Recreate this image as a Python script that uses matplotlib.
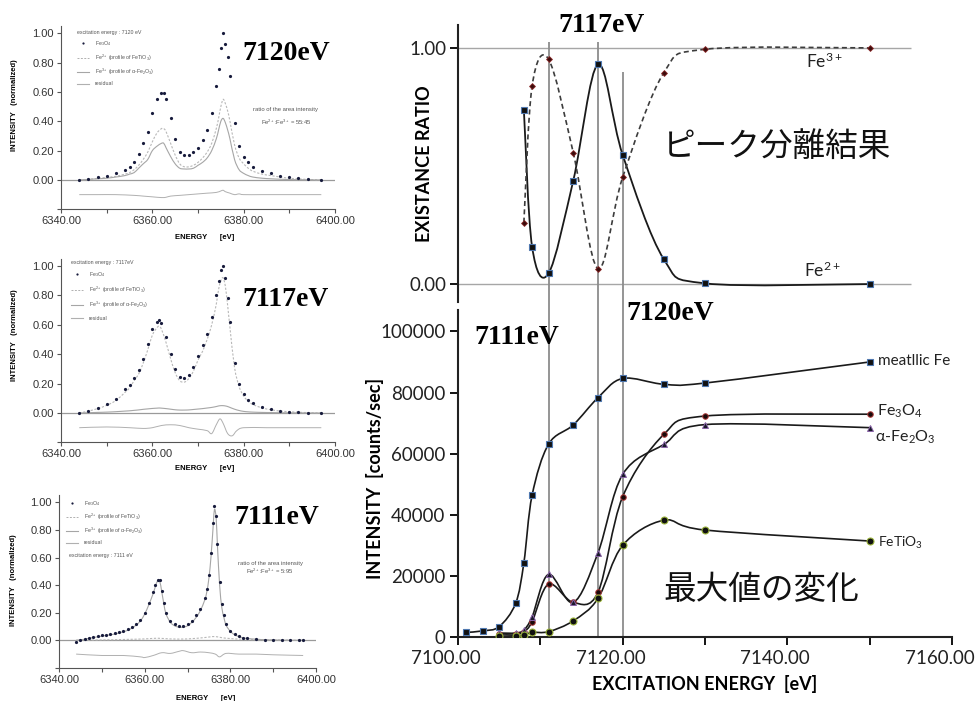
import numpy as np
import matplotlib
matplotlib.use("Agg")
import matplotlib.pyplot as plt
from matplotlib.path import Path
from matplotlib.patches import PathPatch
from matplotlib.lines import Line2D
from matplotlib.transforms import ScaledTranslation

# ---- right top: peak separation result (existence ratio) ----
E_RATIO = [7108, 7109, 7111, 7114, 7117, 7120, 7125, 7130, 7150]
FE2_RATIO = [0.737, 0.158, 0.045, 0.438, 0.930, 0.547, 0.105, 0.003, 0.0]
FE3_RATIO = [0.260, 0.839, 0.952, 0.556, 0.065, 0.452, 0.895, 0.994, 1.0]

# ---- right bottom: maximum intensity vs excitation energy ----
E_METAL = [7101, 7103, 7105, 7107, 7108, 7109, 7111, 7114, 7117, 7120, 7125, 7130, 7150]
I_METAL = [1500, 2000, 3400, 11000, 24300, 46400, 63100, 69400, 78300, 84600, 82700, 83100, 90000]
E_OXIDE = [7105, 7107, 7108, 7109, 7111, 7114, 7117, 7120, 7125, 7130, 7150]
I_FE3O4 = [1000, 1000, 1700, 5000, 17300, 11300, 14600, 45900, 66300, 72300, 72900]
I_FE2O3 = [1300, 1300, 2300, 6600, 20500, 11300, 27500, 53200, 63000, 69500, 68500]
I_FETIO3 = [300, 400, 650, 1500, 1750, 5300, 12600, 30000, 38200, 35000, 31400]

MARK_E = [7111, 7117, 7120]
MARK_TOP = [1.025, 1.025, 0.898]

# ---- left: Fe3O4 spectra at 7120 eV ----
E_7120 = [6344, 6346, 6348, 6350, 6352, 6354, 6355, 6356, 6357, 6358, 6359, 6360, 6361, 6362, 6362.5,
          6363, 6364, 6365, 6366, 6367, 6368, 6369, 6370, 6371, 6372, 6373, 6374, 6374.5, 6375, 6375.5,
          6376, 6376.5, 6377, 6378, 6379, 6380, 6381, 6382, 6384, 6386, 6388, 6390, 6392, 6394, 6397]
D_7120 = [0.00, 0.01, 0.02, 0.03, 0.045, 0.07, 0.09, 0.12, 0.18, 0.25, 0.33, 0.46, 0.55, 0.59, 0.59,
          0.55, 0.42, 0.28, 0.19, 0.17, 0.17, 0.19, 0.22, 0.27, 0.34, 0.46, 0.64, 0.76, 0.90, 1.00,
          0.93, 0.84, 0.71, 0.39, 0.23, 0.16, 0.12, 0.09, 0.06, 0.045, 0.03, 0.02, 0.012, 0.006, 0.00]
FE2_7120 = [0.00, 0.005, 0.01, 0.018, 0.025, 0.04, 0.05, 0.07, 0.10, 0.14, 0.19, 0.26, 0.32, 0.35, 0.35,
            0.33, 0.25, 0.17, 0.11, 0.09, 0.09, 0.10, 0.12, 0.15, 0.19, 0.25, 0.35, 0.42, 0.50, 0.55,
            0.52, 0.47, 0.40, 0.24, 0.15, 0.11, 0.08, 0.06, 0.04, 0.03, 0.02, 0.012, 0.007, 0.004, 0.00]
FE3_7120 = [0.00, 0.004, 0.008, 0.012, 0.02, 0.03, 0.04, 0.05, 0.08, 0.11, 0.14, 0.20, 0.23, 0.25, 0.25,
            0.22, 0.16, 0.11, 0.08, 0.075, 0.075, 0.08, 0.10, 0.12, 0.15, 0.20, 0.28, 0.34, 0.40, 0.42,
            0.39, 0.34, 0.28, 0.14, 0.07, 0.045, 0.03, 0.02, 0.012, 0.008, 0.005, 0.003, 0.002, 0.001, 0.00]
RE_7120 = [6344, 6348, 6352, 6356, 6358, 6360, 6362, 6363, 6364, 6366, 6368, 6370, 6372, 6374, 6375,
           6375.5, 6376, 6377, 6378, 6379, 6380, 6384, 6388, 6392, 6397]
RES_7120 = [-0.10, -0.10, -0.10, -0.105, -0.11, -0.115, -0.12, -0.118, -0.11, -0.105, -0.10, -0.095, -0.09,
            -0.085, -0.075, -0.07, -0.08, -0.09, -0.10, -0.095, -0.10, -0.10, -0.10, -0.10, -0.10]

# ---- left: spectra at 7117 eV ----
E_7117 = [6344, 6346, 6348, 6350, 6352, 6354, 6355, 6356, 6357, 6358, 6359, 6360, 6361, 6361.5, 6362,
          6363, 6364, 6365, 6366, 6367, 6368, 6369, 6370, 6371, 6372, 6373, 6374, 6374.5, 6375, 6375.5,
          6376, 6376.5, 6377, 6378, 6379, 6380, 6381, 6382, 6384, 6386, 6388, 6390, 6392, 6394, 6397]
D_7117 = [0.00, 0.015, 0.035, 0.06, 0.095, 0.16, 0.19, 0.24, 0.29, 0.37, 0.47, 0.57, 0.62, 0.635, 0.61,
          0.52, 0.40, 0.30, 0.245, 0.235, 0.26, 0.31, 0.39, 0.46, 0.54, 0.65, 0.80, 0.90, 0.97, 1.00,
          0.92, 0.78, 0.62, 0.34, 0.20, 0.13, 0.09, 0.065, 0.04, 0.025, 0.015, 0.01, 0.006, 0.003, 0.00]
FE2_7117 = [0.00, 0.013, 0.03, 0.052, 0.085, 0.14, 0.17, 0.22, 0.265, 0.34, 0.43, 0.53, 0.58, 0.59, 0.57,
            0.48, 0.37, 0.275, 0.22, 0.21, 0.235, 0.285, 0.36, 0.42, 0.50, 0.60, 0.74, 0.84, 0.90, 0.92,
            0.86, 0.73, 0.58, 0.31, 0.18, 0.115, 0.08, 0.058, 0.035, 0.022, 0.013, 0.009, 0.005, 0.003, 0.00]
FE3_7117 = [0.0, 0.002, 0.004, 0.006, 0.009, 0.013, 0.015, 0.018, 0.021, 0.025, 0.028, 0.031, 0.033, 0.034, 0.033,
            0.03, 0.026, 0.022, 0.02, 0.02, 0.021, 0.024, 0.027, 0.03, 0.034, 0.038, 0.044, 0.048, 0.05, 0.05,
            0.048, 0.044, 0.038, 0.026, 0.017, 0.011, 0.008, 0.006, 0.004, 0.003, 0.002, 0.001, 0.001, 0.0, 0.0]
RE_7117 = [6344, 6350, 6355, 6358, 6360, 6362, 6364, 6366, 6368, 6370, 6372, 6373, 6374, 6374.8, 6375.5,
           6376.5, 6377.5, 6378.5, 6380, 6385, 6390, 6397]
RES_7117 = [-0.10, -0.095, -0.10, -0.105, -0.10, -0.085, -0.08, -0.085, -0.10, -0.11, -0.12, -0.14, -0.08,
            -0.04, -0.07, -0.14, -0.155, -0.12, -0.10, -0.10, -0.10, -0.10]

# ---- left: spectra at 7111 eV ----
E_7111 = [6344, 6345, 6346, 6347, 6348, 6349, 6350, 6351, 6352, 6353, 6354, 6355, 6356, 6357, 6358, 6359,
          6360, 6361, 6362, 6362.5, 6363, 6363.5, 6364, 6364.5, 6365, 6366, 6367, 6368, 6369, 6370, 6371,
          6372, 6373, 6374, 6374.5, 6375, 6375.5, 6376, 6376.3, 6376.7, 6377, 6377.5, 6378, 6378.5, 6379,
          6380, 6381, 6382, 6383, 6384, 6386, 6388, 6390, 6392, 6394, 6396, 6397]
D_7111 = [-0.01, 0.00, 0.01, 0.02, 0.025, 0.03, 0.035, 0.04, 0.045, 0.05, 0.06, 0.07, 0.08, 0.095, 0.12, 0.15,
          0.20, 0.27, 0.35, 0.40, 0.44, 0.44, 0.36, 0.27, 0.20, 0.14, 0.115, 0.105, 0.105, 0.115, 0.14,
          0.18, 0.23, 0.31, 0.37, 0.47, 0.63, 0.85, 0.97, 0.90, 0.70, 0.42, 0.26, 0.18, 0.12,
          0.07, 0.045, 0.03, 0.02, 0.015, 0.01, 0.005, 0.003, 0.002, 0.0, 0.0, 0.0]
FE3_7111 = [0.0, 0.003, 0.008, 0.014, 0.02, 0.025, 0.03, 0.035, 0.04, 0.045, 0.053, 0.062, 0.072, 0.088, 0.11, 0.14,
            0.19, 0.26, 0.34, 0.39, 0.43, 0.43, 0.35, 0.26, 0.19, 0.13, 0.105, 0.095, 0.095, 0.105, 0.13,
            0.165, 0.215, 0.29, 0.35, 0.45, 0.61, 0.83, 0.95, 0.88, 0.68, 0.40, 0.24, 0.165, 0.11,
            0.065, 0.04, 0.027, 0.018, 0.013, 0.008, 0.004, 0.002, 0.001, 0.0, 0.0, 0.0]
PE_7111 = [6344, 6350, 6355, 6360, 6363, 6366, 6370, 6374, 6376.3, 6379, 6384, 6390, 6397]
FE2_7111 = [0.0, 0.003, 0.006, 0.01, 0.015, 0.01, 0.01, 0.02, 0.027, 0.015, 0.006, 0.003, 0.0]
RE_7111 = [6344, 6350, 6355, 6359, 6360, 6362, 6364, 6366, 6368, 6369, 6371, 6373, 6375, 6376.5, 6377.5,
           6379, 6382, 6386, 6390, 6397]
RES_7111 = [-0.10, -0.11, -0.11, -0.12, -0.125, -0.11, -0.09, -0.095, -0.08, -0.075, -0.09, -0.085, -0.09,
            -0.10, -0.12, -0.095, -0.10, -0.10, -0.105, -0.11]

plt.rcParams['font.family'] = ['Liberation Sans', 'DejaVu Sans']
plt.rcParams['mathtext.fontset'] = 'custom'
plt.rcParams['mathtext.rm'] = 'Lato'
plt.rcParams['mathtext.it'] = 'Lato:italic'
plt.rcParams['mathtext.bf'] = 'Lato:bold'
plt.rcParams['mathtext.default'] = 'regular'

W, H = 979, 701
fig = plt.figure(figsize=(W / 100, H / 100), dpi=100)

DOT = '#171b3c'
LATO = ['Lato', 'DejaVu Sans']
CJK = ['Noto Sans CJK JP', 'DejaVu Sans']
SERIF = ['Liberation Serif', 'DejaVu Serif']


def px_axes(x0, y0, x1, y1):
    return fig.add_axes([x0 / W, 1 - y1 / H, (x1 - x0) / W, (y1 - y0) / H])


def ftext(x, y, s, **kw):
    kw.setdefault('ha', 'center')
    kw.setdefault('va', 'center')
    return fig.text(x / W, 1 - y / H, s, **kw)


def smooth(ax, x, y, **kw):
    # excel-like smoothed line through the points (cubic bezier segments)
    p = np.column_stack([x, y]).astype(float)
    n = len(p)
    verts = [p[0]]
    codes = [Path.MOVETO]
    for i in range(n - 1):
        a, b, c, d = p[max(i - 1, 0)], p[i], p[i + 1], p[min(i + 2, n - 1)]
        verts += [b + (c - a) / 6, c - (d - b) / 6, c]
        codes += [Path.CURVE4] * 3
    ax.add_patch(PathPatch(Path(verts, codes), fill=False, **kw))


def spectrum(box, E, D, fe2, fe3, res):
    ax = px_axes(*box)
    ax.axhline(0, color='#9a9a9a', lw=0.9, zorder=1)
    smooth(ax, fe2[0], fe2[1], color='#b8b8b8', lw=0.8, linestyle=(0, (2, 1.5)), zorder=2)
    smooth(ax, fe3[0], fe3[1], color='#a6a6a6', lw=0.8, zorder=2)
    smooth(ax, res[0], res[1], color='#b0b0b0', lw=0.7, zorder=2)
    ax.plot(E, D, ls='none', marker='o', ms=2.3, mew=0, color=DOT, zorder=3)
    ax.set_xlim(6340, 6400)
    ax.set_ylim(-0.2, 1.05)
    ax.set_xticks([6340, 6360, 6380, 6400])
    ax.set_xticks([6350, 6370, 6390], minor=True)
    ax.xaxis.set_major_formatter('{x:.2f}')
    yt = [-0.2, 0, 0.2, 0.4, 0.6, 0.8, 1.0]
    ax.set_yticks(yt)
    ax.set_yticklabels([''] + ['%.2f' % v for v in yt[1:]])
    for s in ['top', 'right']:
        ax.spines[s].set_visible(False)
    for s in ['left', 'bottom']:
        ax.spines[s].set_color('#555555')
        ax.spines[s].set_linewidth(0.8)
    ax.tick_params(which='both', direction='out', length=3, width=0.8, color='#555555',
                   labelsize=8, pad=2, labelcolor='#333333')
    return ax


def spec_legend(ax, xy, spacing, title=None):
    h = [Line2D([], [], ls='none', marker='o', ms=1.6, mew=0, color=DOT),
         Line2D([], [], color='#b0b0b0', lw=0.7, ls=(0, (2, 1.5))),
         Line2D([], [], color='#a6a6a6', lw=0.8),
         Line2D([], [], color='#b0b0b0', lw=0.8)]
    lab = ['Fe$_3$O$_4$', 'Fe$^{2+}$ (profile of FeTiO$_3$)',
           'Fe$^{3+}$ (profile of $\\alpha$-Fe$_2$O$_3$)', 'residual']
    leg = ax.legend(h, lab, title=title, loc='upper left',
                    bbox_to_anchor=(xy[0] / W, 1 - xy[1] / H), bbox_transform=fig.transFigure,
                    fontsize=3.8, title_fontsize=3.8, frameon=False, borderpad=0, borderaxespad=0,
                    handlelength=2.2, handletextpad=1.2, labelspacing=spacing)
    leg._legend_box.align = 'left'
    for t in leg.get_texts():
        t.set_color('#555555')
    leg.get_title().set_color('#555555')


# ---------------- left column ----------------
ax1 = spectrum((61, 26, 335, 209.3), E_7120, D_7120, (E_7120, FE2_7120), (E_7120, FE3_7120), (RE_7120, RES_7120))
spec_legend(ax1, (77, 30), 0.8, 'excitation energy : 7120 eV')
ftext(286, 53, '7120eV', family=SERIF, fontweight='bold', fontsize=20)
ftext(286, 110, 'ratio of the area intensity', fontsize=4.2, color='#555555')
ftext(286, 122, 'Fe$^{2+}$:Fe$^{3+}$ = 55:45', fontsize=4.2, color='#555555')
ftext(205, 238, 'ENERGY      [eV]', fontsize=5.5, fontweight='bold')
ftext(15, 105, 'INTENSITY   (normalized)', fontsize=5.5, fontweight='bold', rotation=90)

ax2 = spectrum((61, 258.7, 335, 442.4), E_7117, D_7117, (E_7117, FE2_7117), (E_7117, FE3_7117), (RE_7117, RES_7117))
spec_legend(ax2, (71, 260), 1.0, 'excitation energy : 7117eV')
ftext(286, 300, '7117eV', family=SERIF, fontweight='bold', fontsize=20)
ftext(205, 469, 'ENERGY      [eV]', fontsize=5.5, fontweight='bold')
ftext(15, 335, 'INTENSITY   (normalized)', fontsize=5.5, fontweight='bold', rotation=90)

ax3 = spectrum((59, 495.4, 316, 667.9), E_7111, D_7111, (PE_7111, FE2_7111), (E_7111, FE3_7111), (RE_7111, RES_7111))
spec_legend(ax3, (66, 499), 0.75)
ftext(69, 556, 'excitation energy : 7111 eV', fontsize=3.8, color='#555555', ha='left')
ftext(277, 517, '7111eV', family=SERIF, fontweight='bold', fontsize=20)
ftext(270, 563, 'ratio of the area intensity', fontsize=4.2, color='#555555')
ftext(270, 571, 'Fe$^{2+}$:Fe$^{3+}$ = 5:95', fontsize=4.2, color='#555555')
ftext(206, 698, 'ENERGY      [eV]', fontsize=5.5, fontweight='bold')
ftext(14, 580, 'INTENSITY   (normalized)', fontsize=5.5, fontweight='bold', rotation=90)

# ---------------- right top: existence ratio ----------------
axr = px_axes(458, 25, 952, 302)
axr.set_xlim(7100, 7160)
axr.set_ylim(-0.076, 1.097)
axr.hlines([0, 1], 7100, 7155, color='#a6a6a6', lw=1.0, zorder=1)
axr.vlines(MARK_E, -0.076, MARK_TOP, color='#8c8c8c', lw=1.3, zorder=1, clip_on=False)
smooth(axr, E_RATIO, FE2_RATIO, color='#1a1a1a', lw=1.3, zorder=2)
smooth(axr, E_RATIO, FE3_RATIO, color='#3c3c3c', lw=1.2, linestyle=(0, (3, 2)), zorder=2)
axr.plot(E_RATIO, FE2_RATIO, ls='none', marker='s', ms=5, color='#111111', mec='#4f78b0', mew=0.8, zorder=3)
axr.plot(E_RATIO, FE3_RATIO, ls='none', marker='D', ms=3, color='#3a0c0c', mec='#8b2a2a', mew=0.6, zorder=3)
axr.set_xticks([])
axr.set_yticks([0, 1])
axr.set_yticklabels(['0.00', '1.00'], family=LATO)
for s in ['top', 'right', 'bottom']:
    axr.spines[s].set_visible(False)
axr.spines['left'].set_linewidth(1.5)
axr.spines['left'].set_color('#222222')
axr.tick_params(axis='y', direction='out', length=6, width=1.3, labelsize=13.5, pad=2, labelcolor='#222222')
axr.text(7142.3, 0.945, 'Fe$^{3+}$', fontsize=12.5, family=LATO, va='center', color='#222222')
axr.text(7142.0, 0.06, 'Fe$^{2+}$', fontsize=12.5, family=LATO, va='center', color='#222222')

# ---------------- right bottom: maximum intensity ----------------
axb = px_axes(458, 310, 952, 637)
axb.set_xlim(7100, 7160)
axb.set_ylim(0, 107000)
axb.vlines(MARK_E, 0, 109700, color='#8c8c8c', lw=1.3, zorder=1, clip_on=False)
smooth(axb, E_METAL, I_METAL, color='#1a1a1a', lw=1.2, zorder=2)
smooth(axb, E_OXIDE, I_FE3O4, color='#1a1a1a', lw=1.2, zorder=2)
smooth(axb, E_OXIDE, I_FE2O3, color='#1a1a1a', lw=1.2, zorder=2)
smooth(axb, E_OXIDE, I_FETIO3, color='#1a1a1a', lw=1.2, zorder=2)
axb.plot(E_METAL, I_METAL, ls='none', marker='s', ms=5, color='#111111', mec='#4f78b0', mew=0.8, zorder=3)
axb.plot(E_OXIDE, I_FE3O4, ls='none', marker='o', ms=4, color='#1a0a0a', mec='#b03a3a', mew=0.7, zorder=3)
axb.plot(E_OXIDE, I_FE2O3, ls='none', marker='^', ms=5, color='#1a1a2a', mec='#8a64a8', mew=0.7, zorder=3)
axb.plot(E_OXIDE, I_FETIO3, ls='none', marker='o', ms=5, color='#111111', mec='#9ab33a', mew=0.8, zorder=3)
axb.set_xticks([7100, 7120, 7140, 7160])
axb.set_xticks([7110, 7130, 7150], minor=True)
axb.xaxis.set_major_formatter('{x:.2f}')
axb.set_yticks([0, 20000, 40000, 60000, 80000, 100000])
axb.yaxis.set_major_formatter('{x:.0f}')
for s in ['top', 'right']:
    axb.spines[s].set_visible(False)
for s in ['left', 'bottom']:
    axb.spines[s].set_linewidth(1.5)
    axb.spines[s].set_color('#222222')
axb.tick_params(which='both', direction='out', length=6, width=1.3, labelsize=13.5, pad=3, labelcolor='#222222')
for lab in axb.get_xticklabels() + axb.get_yticklabels():
    lab.set_family(LATO)
# the x labels sit a little left of their ticks in the original
shift = ScaledTranslation(-12 / 100, 0, fig.dpi_scale_trans)
for lab in axb.get_xticklabels():
    lab.set_transform(lab.get_transform() + shift)

lab_kw = dict(textcoords='offset points', va='center', ha='left', family=LATO, color='#222222')
axb.annotate('meatllic Fe', (E_METAL[-1], I_METAL[-1]), xytext=(6, 1), fontsize=11, **lab_kw)
axb.annotate('Fe$_3$O$_4$', (E_OXIDE[-1], I_FE3O4[-1]), xytext=(5, 2), fontsize=11.5, **lab_kw)
axb.annotate('$\\alpha$-Fe$_2$O$_3$', (E_OXIDE[-1], I_FE2O3[-1]), xytext=(4, -7), fontsize=11.5, **lab_kw)
axb.annotate('FeTiO$_3$', (E_OXIDE[-1], I_FETIO3[-1]), xytext=(6, -1.5), fontsize=10, **lab_kw)

# axis titles and annotations on the right
ftext(705, 684, 'EXCITATION ENERGY  [eV]', fontsize=13, fontweight='bold', family=LATO)
ftext(375, 478, 'INTENSITY  [counts/sec]', fontsize=13, fontweight='bold', family=LATO, rotation=90)
ftext(425, 164, 'EXISTANCE RATIO', fontsize=13, fontweight='bold', family=LATO, rotation=90)
ftext(602, 26, '7117eV', family=SERIF, fontweight='bold', fontsize=20)
ftext(517, 338, '7111eV', family=SERIF, fontweight='bold', fontsize=20)
ftext(670, 314, '7120eV', family=SERIF, fontweight='bold', fontsize=20)
ftext(663, 147, 'ピーク分離結果', family=CJK, fontsize=23.5, ha='left', color='#111111')
ftext(663, 590, '最大値の変化', family=CJK, fontsize=23.5, ha='left', color='#111111')

fig.savefig('out.png', dpi=100)
